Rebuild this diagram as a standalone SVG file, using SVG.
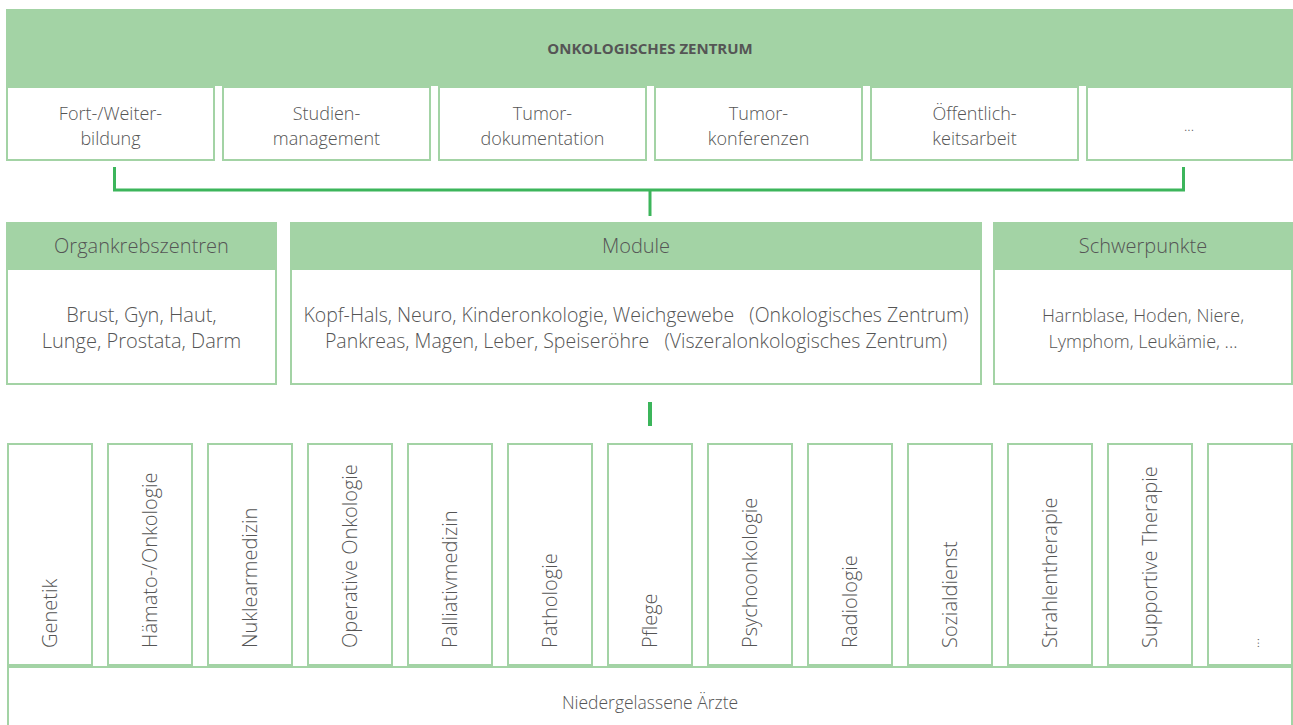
<svg xmlns="http://www.w3.org/2000/svg" width="1293" height="725" viewBox="0 0 1293 725">
<style>
.g{fill:#a3d3a5}
.b{fill:#fff;stroke:#a3d3a5;stroke-width:2}
.t{font-family:"Open Sans","Noto Sans","Liberation Sans",sans-serif;font-size:20px;font-weight:300;fill:#555;text-anchor:middle}
.k{font-size:18px}
.m{font-size:19.5px}
.s{font-size:18px}
.v{font-family:"Open Sans","Noto Sans","Liberation Sans",sans-serif;font-size:20px;font-weight:300;fill:#555;text-anchor:start}
.h{font-family:"Open Sans","Noto Sans","Liberation Sans",sans-serif;font-size:15px;font-weight:bold;fill:#555;text-anchor:middle}
.c{fill:none;stroke:#3cb55b;stroke-width:3}
</style>
<rect width="1293" height="725" fill="#fff"/>
<g id="onkologisches-zentrum">
<rect class="g" x="6" y="9" width="1287" height="77"/>
<text class="h" x="650" y="54">ONKOLOGISCHES ZENTRUM</text>
</g>
<g id="fortbildung"><rect class="b" x="7" y="87" width="207" height="73"/><text class="t k" x="110.5" y="120">Fort-/Weiter-</text><text class="t k" x="110.5" y="145">bildung</text></g>
<g id="studienmanagement"><rect class="b" x="223" y="87" width="207" height="73"/><text class="t k" x="326.5" y="120">Studien-</text><text class="t k" x="326.5" y="145">management</text></g>
<g id="tumordokumentation"><rect class="b" x="439" y="87" width="207" height="73"/><text class="t k" x="542.5" y="120">Tumor-</text><text class="t k" x="542.5" y="145">dokumentation</text></g>
<g id="tumorkonferenzen"><rect class="b" x="655" y="87" width="207" height="73"/><text class="t k" x="758.5" y="120">Tumor-</text><text class="t k" x="758.5" y="145">konferenzen</text></g>
<g id="oeffentlichkeitsarbeit"><rect class="b" x="871" y="87" width="207" height="73"/><text class="t k" x="974.5" y="120">Öffentlich-</text><text class="t k" x="974.5" y="145">keitsarbeit</text></g>
<g id="weitere-top"><rect class="b" x="1087" y="87" width="205" height="73"/><text class="t" x="1189" y="131" style="font-size:14px">...</text></g>

<g id="connectors">
<path class="c" d="M114.5 167V190H1183.5V167"/>
<path class="c" d="M650 190V216"/>
<path class="c" d="M650 402V426" style="stroke-width:4"/>
</g>

<g id="organkrebszentren">
<rect class="b" x="7" y="223" width="269" height="161"/>
<rect class="g" x="6" y="222" width="271" height="48"/>
<text class="t" x="141.5" y="253">Organkrebszentren</text>
<text class="t" x="141.5" y="322">Brust, Gyn, Haut,</text>
<text class="t" x="141.5" y="348">Lunge, Prostata, Darm</text>
</g>
<g id="module">
<rect class="b" x="291" y="223" width="690" height="161"/>
<rect class="g" x="290" y="222" width="692" height="48"/>
<text class="t" x="636" y="253">Module</text>
<text class="t m" x="636" y="322" xml:space="preserve">Kopf-Hals, Neuro, Kinderonkologie, Weichgewebe   (Onkologisches Zentrum)</text>
<text class="t m" x="636" y="348" xml:space="preserve">Pankreas, Magen, Leber, Speiseröhre   (Viszeralonkologisches Zentrum)</text>
</g>
<g id="schwerpunkte">
<rect class="b" x="994" y="223" width="298" height="161"/>
<rect class="g" x="993" y="222" width="300" height="48"/>
<text class="t" x="1143" y="253">Schwerpunkte</text>
<text class="t s" x="1143" y="322">Harnblase, Hoden, Niere,</text>
<text class="t s" x="1143" y="348">Lymphom, Leukämie,  ...</text>
</g>

<g id="niedergelassene-aerzte">
<rect class="b" x="8" y="667" width="1284" height="80"/>
<text class="t" x="650" y="709" style="font-size:17.5px">Niedergelassene Ärzte</text>
</g>
<g id="genetik"><rect class="b" x="8" y="444" width="84" height="221"/><text class="v" transform="translate(57 648) rotate(-90)">Genetik</text></g>
<g id="haemato-onkologie"><rect class="b" x="108" y="444" width="84" height="221"/><text class="v" transform="translate(157 648) rotate(-90)">Hämato-/Onkologie</text></g>
<g id="nuklearmedizin"><rect class="b" x="208" y="444" width="84" height="221"/><text class="v" transform="translate(257 648) rotate(-90)">Nuklearmedizin</text></g>
<g id="operative-onkologie"><rect class="b" x="308" y="444" width="84" height="221"/><text class="v" transform="translate(357 648) rotate(-90)">Operative Onkologie</text></g>
<g id="palliativmedizin"><rect class="b" x="408" y="444" width="84" height="221"/><text class="v" transform="translate(457 648) rotate(-90)">Palliativmedizin</text></g>
<g id="pathologie"><rect class="b" x="508" y="444" width="84" height="221"/><text class="v" transform="translate(557 648) rotate(-90)">Pathologie</text></g>
<g id="pflege"><rect class="b" x="608" y="444" width="84" height="221"/><text class="v" transform="translate(657 648) rotate(-90)">Pflege</text></g>
<g id="psychoonkologie"><rect class="b" x="708" y="444" width="84" height="221"/><text class="v" transform="translate(757 648) rotate(-90)">Psychoonkologie</text></g>
<g id="radiologie"><rect class="b" x="808" y="444" width="84" height="221"/><text class="v" transform="translate(857 648) rotate(-90)">Radiologie</text></g>
<g id="sozialdienst"><rect class="b" x="908" y="444" width="84" height="221"/><text class="v" transform="translate(957 648) rotate(-90)">Sozialdienst</text></g>
<g id="strahlentherapie"><rect class="b" x="1008" y="444" width="84" height="221"/><text class="v" transform="translate(1057 648) rotate(-90)">Strahlentherapie</text></g>
<g id="supportive-therapie"><rect class="b" x="1108" y="444" width="84" height="221"/><text class="v" transform="translate(1157 648) rotate(-90)">Supportive Therapie</text></g>
<g id="weitere-bottom"><rect class="b" x="1208" y="444" width="84" height="221"/><text class="v" transform="translate(1259 648) rotate(-90)" style="font-size:14px">...</text></g>
</svg>
